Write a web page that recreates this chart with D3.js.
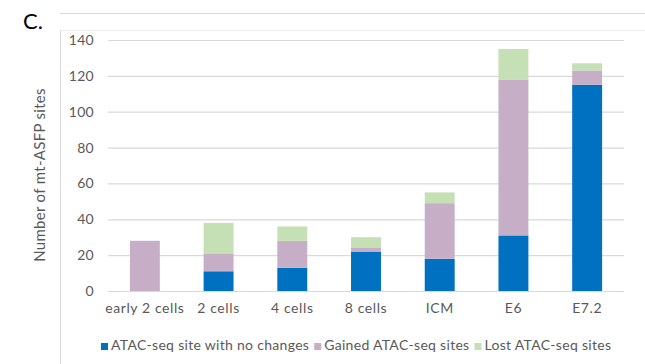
<!DOCTYPE html>
<html>
<head>
<meta charset="utf-8">
<script src="https://cdn.jsdelivr.net/npm/d3@7"></script>
<style>
  html, body { margin: 0; padding: 0; background: #fff; }
  svg { display: block; font-family: Lato, "Open Sans", sans-serif; }
</style>
</head>
<body>
<svg id="chart" width="645" height="364"></svg>
<script>
// Stages along the x axis
const stages = ["early 2 cells", "2 cells", "4 cells", "8 cells", "ICM", "E6", "E7.2"];
// Site counts per stage, stacked bottom to top
const noChange = [0, 11, 13, 22, 18, 31, 115];
const gained   = [28, 10, 15, 2, 31, 87, 8];
const lost     = [0, 17, 8, 6, 6, 17, 4];
const seriesNames = ["ATAC-seq site with no changes", "Gained ATAC-seq sites", "Lost ATAC-seq sites"];
const yTicks = [0, 20, 40, 60, 80, 100, 120, 140];

const colors = ["#0070C0", "#C6AEC7", "#C5E0B4"];
const textFont = "Lato, 'Open Sans', sans-serif";
const textColor = "#595959";

const svg = d3.select("#chart");
const margin = { left: 108, right: 21, top: 40, bottom: 73 };
const W = 645, H = 364;

const x = d3.scaleBand().domain(stages).range([margin.left, W - margin.right]).paddingInner(0.594).paddingOuter(0.297);
const y = d3.scaleLinear().domain([0, 140]).range([H - margin.bottom, margin.top]);

// Panel frame
svg.append("line").attr("x1", 60).attr("x2", W).attr("y1", 13.5).attr("y2", 13.5)
  .attr("stroke", "#D9D9D9").attr("stroke-width", 1);
svg.append("line").attr("x1", 60.5).attr("x2", 60.5).attr("y1", 30).attr("y2", H)
  .attr("stroke", "#D9D9D9").attr("stroke-width", 1);
svg.append("line").attr("x1", 60).attr("x2", W).attr("y1", 30.5).attr("y2", 30.5)
  .attr("stroke", "#EDEDED").attr("stroke-width", 1);

// Panel letter
svg.append("text").attr("x", 23).attr("y", 28.5).attr("font-size", 22)
  .attr("font-family", textFont).attr("fill", "#000").text("C.");

// Horizontal gridlines + y tick labels
const yAxis = d3.axisLeft(y).tickValues(yTicks).tickSize(-(W - margin.right - margin.left)).tickPadding(14);
const gy = svg.append("g").attr("transform", `translate(${margin.left},0)`).call(yAxis);
gy.select(".domain").remove();
gy.selectAll(".tick line").attr("stroke", "#D9D9D9").attr("stroke-width", 1.2);
gy.selectAll(".tick text").attr("fill", textColor).attr("font-size", 14)
  .attr("font-family", textFont).attr("letter-spacing", 0.3);

// Stacked bars
const rows = stages.map((s, i) => ({ stage: s, a: noChange[i], b: gained[i], c: lost[i] }));
const stack = d3.stack().keys(["a", "b", "c"])(rows);
svg.append("g").selectAll("g").data(stack).join("g")
  .attr("fill", (d, i) => colors[i])
  .selectAll("rect").data(d => d).join("rect")
  .attr("x", d => x(d.data.stage))
  .attr("width", x.bandwidth())
  .attr("y", d => y(d[1]))
  .attr("height", d => y(d[0]) - y(d[1]));

// X axis labels
const xAxis = d3.axisBottom(x).tickSize(0).tickPadding(12);
const gx = svg.append("g").attr("transform", `translate(0,${y(0)})`).call(xAxis);
gx.select(".domain").remove();
gx.selectAll(".tick text").attr("fill", textColor).attr("font-size", 14)
  .attr("font-family", textFont).attr("letter-spacing", 0.6);

// Y axis title
svg.append("text")
  .attr("transform", `translate(45,175) rotate(-90)`)
  .attr("text-anchor", "middle").attr("font-size", 15).attr("fill", textColor)
  .attr("font-family", textFont).attr("letter-spacing", 0.3)
  .text("Number of mt-ASFP sites");

// Legend
const legend = svg.append("g").attr("transform", "translate(0,350)");
let lx = 101;
seriesNames.forEach((name, i) => {
  legend.append("rect").attr("x", lx).attr("y", -7).attr("width", 7).attr("height", 7).attr("fill", colors[i]);
  const t = legend.append("text").attr("x", lx + 10).attr("y", 0).attr("font-size", 14)
    .attr("fill", textColor).attr("font-family", textFont).attr("letter-spacing", 0.3).text(name);
  lx += 10 + t.node().getComputedTextLength() + 5;
});
</script>
</body>
</html>
